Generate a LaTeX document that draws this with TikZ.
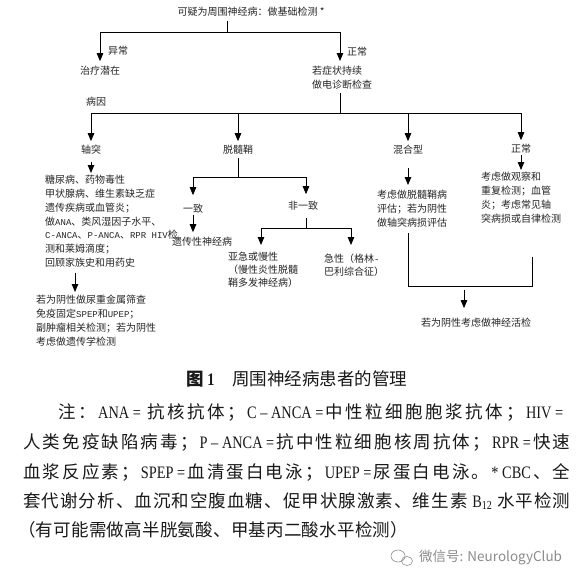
\documentclass[tikz,border=0pt]{standalone}
\usepackage{fontspec}
\usepackage{xcolor}
\usepackage{tikz}
\usetikzlibrary{arrows.meta,positioning}
\setmainfont{Noto Sans CJK SC}
\newfontfamily\latfont{Liberation Serif}[FakeStretch=0.82]
\newfontfamily\monofont{Liberation Mono}
\definecolor{txtgray}{HTML}{262626}
\definecolor{wmgray}{HTML}{8C8C8C}
\newcommand{\ml}[1]{{\monofont\fontsize{9}{13.8}\selectfont #1}}
\newcommand{\nl}[1]{{\latfont #1}}
% spread the characters of a line evenly
\makeatletter
\newcommand{\jz}[1]{\jz@loop#1\relax}
\def\jz@loop#1{\ifx\relax#1\unskip\else#1\hfil\expandafter\jz@loop\fi}
\makeatother

\begin{document}
\begin{tikzpicture}[
    x=1pt, y=-1pt,
    txt/.style={inner sep=0pt, font=\fontsize{10}{13.8}\selectfont, text=txtgray, align=left},
    conn/.style={line width=0.8pt, black},
    arrow/.style={conn, -{Triangle[length=8pt,width=6.5pt]}},
    note/.style={inner sep=0pt, anchor=base west, font=\fontsize{17.5}{20}\selectfont, text=black!90},
]
\useasboundingbox (0,0) rectangle (586,574);
\fill[white] (0,0) rectangle (586,574);

% First tests
\node[txt, anchor=north] (susp) at (251,7) {可疑为周围神经病：做基础检测 *};
\node[txt] (treat) at (100,71) {治疗潜在};
\node[txt, anchor=west] (abn) at (108,51) {异常};
\node[txt, anchor=west] (nrm) at (347,52) {正常};
\node[txt, anchor=north west] (persist) at (312,66) {若症状持续\\做电诊断检查};

% Cause
\node[txt] (cause) at (96,102) {病因};
\node[txt] (axon) at (91,150) {轴突};
\node[txt] (demy) at (238,150) {脱髓鞘};
\node[txt] (mixed) at (408,150) {混合型};
\node[txt] (normal) at (521,149) {正常};

% Axonal branch
\node[txt, anchor=north west] (axlist) at (45,175) {糖尿病、药物毒性\\
  甲状腺病、维生素缺乏症\\
  遗传疾病或血管炎；\\
  做\ml{ANA}、类风湿因子水平、\\
  \ml{C-ANCA}、\ml{P-ANCA}、\ml{RPR HIV}检\\
  测和莱姆滴度；\\
  回顾家族史和用药史};
\node[txt, anchor=north west] (axnext) at (36,295) {若为阴性做尿重金属筛查\\
  免疫固定\ml{SPEP}和\ml{UPEP}；\\
  副肿瘤相关检测；若为阴性\\
  考虑做遗传学检测};

% Demyelinating branch
\node[txt] (cons) at (193,209) {一致};
\node[txt] (non) at (303,206) {非一致};
\node[txt] (hered) at (202,242) {遗传性神经病};
\node[txt, font=\fontsize{10}{13}\selectfont, anchor=north west] (subac) at (228,252) {亚急或慢性\\（慢性炎性脱髓\\鞘多发神经病）};
\node[txt, font=\fontsize{10}{13}\selectfont, anchor=north west] (acute) at (324,254) {急性（格林\ml{-}\\巴利综合征）};

% Mixed and normal
\node[txt, anchor=north west] (mixtxt) at (377,190) {考虑做脱髓鞘病\\评估；若为阴性\\做轴突病损评估};
\node[txt, anchor=north west] (normtxt) at (481,172) {考虑做观察和\\重复检测；血管\\炎；考虑常见轴\\突病损或自律检测};
\node[txt] (biopsy) at (476,323) {若为阴性考虑做神经活检};

% Connectors
\coordinate (t0) at (227,32);
\coordinate (tl) at (100,32);
\coordinate (tr) at (340,32);
\draw[conn] ([yshift=-4pt]susp.south -| t0) -- (t0);
\draw[conn] (tl) -- (tr);
\draw[arrow, shorten >=5pt] (tl) -- (treat.north);
\draw[arrow, shorten >=5pt] (tr) -- (tr |- persist.north);

\coordinate (c0) at (340,113);
\coordinate (ca) at (91,113);
\coordinate (cn) at (521,113);
\draw[conn] ([yshift=-4pt]persist.south -| c0) -- (c0);
\draw[conn] (ca) -- (cn);
\draw[arrow, shorten >=4pt] (ca) -- (axon.north);
\draw[arrow, shorten >=4pt] (demy |- ca) -- (demy.north);
\draw[arrow, shorten >=4pt] (mixed |- ca) -- (mixed.north);
\draw[arrow, shorten >=4pt] (cn) -- (normal.north);

\coordinate (a1) at (75,273);
\draw[arrow, shorten <=7pt, shorten >=2pt] (axon.south) -- (axon.south |- axlist.north);
\draw[arrow, shorten >=3pt] (a1) -- (a1 |- axnext.north);

\coordinate (d0) at (238,177);
\coordinate (dl) at (193,177);
\coordinate (dr) at (306,177);
\draw[conn, shorten <=3pt] (demy.south) -- (d0);
\draw[conn] (dl) -- (dr);
\draw[arrow, shorten >=9pt] (dl) -- (dl |- cons.north);
\draw[arrow, shorten >=7pt] (dr) -- (dr |- non.north);
\draw[arrow, shorten <=1pt, shorten >=5pt] (cons.south -| dl) -- (dl |- hered.north);

\coordinate (n0) at (306,228);
\coordinate (nl) at (261,228);
\coordinate (nr) at (351,228);
\draw[conn, shorten <=7pt] (non.south -| n0) -- (n0);
\draw[conn] (nl) -- (nr);
\draw[arrow, shorten >=7pt] (nl) -- (nl |- subac.north);
\draw[arrow, shorten >=9pt] (nr) -- (nr |- acute.north);

\draw[arrow, shorten <=13pt, shorten >=5pt] (mixed.south) -- (mixed.south |- mixtxt.north);
\draw[arrow, shorten <=1pt, shorten >=2pt] (normal.south) -- (normal.south |- normtxt.north);

\coordinate (bl) at (408,286);
\coordinate (br) at (532,286);
\coordinate (bt) at (532,257);
\coordinate (bm) at (464,286);
\draw[conn] ([yshift=-6pt]mixtxt.south -| bl) -- (bl) -- (br) -- (bt);
\draw[arrow, shorten <=4pt, shorten >=10pt] (bm) -- (bm |- biopsy.north);

% Caption and notes
\node[inner sep=0pt, font=\fontsize{17.5}{20}\selectfont, text=black!90] (cap) at (297,379) {{\bfseries 图\,\nl{1}}\quad 周围神经病患者的管理};
\node[note] (n1) at (58,418.5) {\makebox[505pt][s]{\jz{注：{\nl{ANA =\ }}抗核抗体；{\nl{C – ANCA =}}中性粒细胞胞浆抗体；{\nl{HIV =}}}}};
\node[note] (n2) at (23,448.5) {\makebox[547pt][s]{\jz{人类免疫缺陷病毒；{\nl{P – ANCA =}}抗中性粒细胞核周抗体；{\nl{RPR =}}快速}}};
\node[note] (n3) at (23,478) {\makebox[547pt][s]{\jz{血浆反应素；{\nl{SPEP =}}血清蛋白电泳；{\nl{UPEP =}}尿蛋白电泳。{\nl{* CBC}}、全}}};
\node[note] (n4) at (23,507) {\makebox[547pt][s]{\jz{套代谢分析、血沉和空腹血糖、促甲状腺激素、维生素{\nl{\ B\textsubscript{12}\ }}水平检测}}};
\node[note] (n5) at (18,536) {\makebox[390pt][s]{\jz{（有可能需做高半胱氨酸、甲基丙二酸水平检测）}}};

% Watermark
\draw[wmgray, line width=0.6pt] (398,556) ellipse (7pt and 6pt);
\draw[wmgray, line width=0.6pt] (407,561) ellipse (5.5pt and 4.5pt);
\node[inner sep=0pt, anchor=west, font=\fontsize{13.5}{14}\selectfont, text=wmgray] (wm) at (419,558) {微信号: NeurologyClub};
\end{tikzpicture}
\end{document}
